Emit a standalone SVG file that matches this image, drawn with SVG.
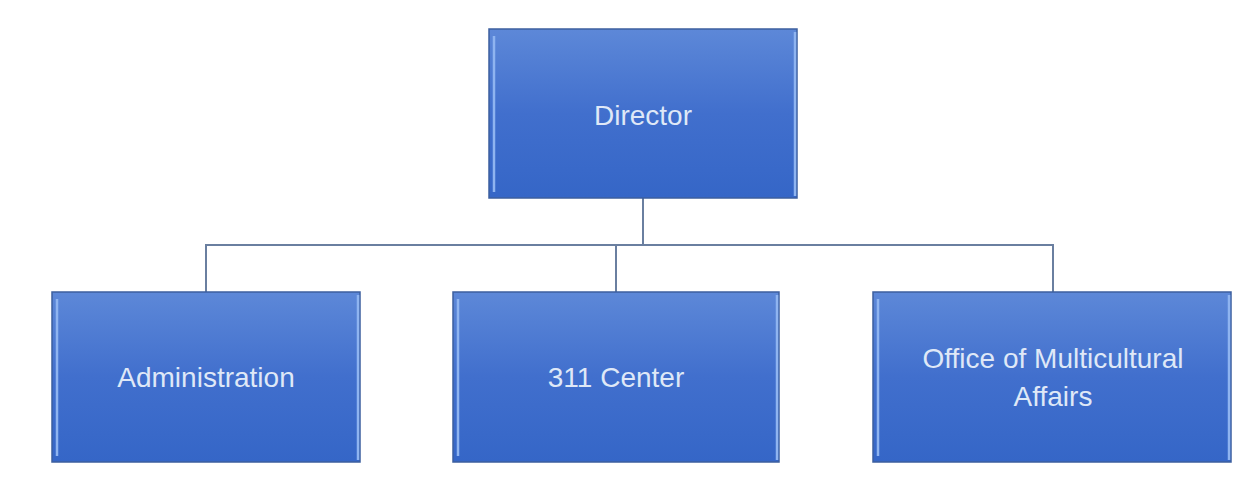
<svg xmlns="http://www.w3.org/2000/svg" width="1235" height="491" viewBox="0 0 1235 491">
<defs>
<linearGradient id="g" x1="0" y1="0" x2="0" y2="1">
<stop offset="0" stop-color="#5d88d8"/>
<stop offset="0.5" stop-color="#416fcd"/>
<stop offset="1" stop-color="#3566c7"/>
</linearGradient>
<style>
.box{fill:url(#g);stroke:#3c5f9f;stroke-width:1.5}
.hl{stroke:#8fb4f0;stroke-width:2.5}
.t{font-family:"Liberation Sans",Arial,sans-serif;font-size:28px;fill:#dfe8f7;text-anchor:middle}
.c{fill:none;stroke:#6a7fa0;stroke-width:2}
</style>
</defs>
<rect width="1235" height="491" fill="#ffffff"/>
<g id="connectors">
<path class="c" d="M643 198 V245"/>
<path class="c" d="M206 292 V245 H1053 V292"/>
<path class="c" d="M616 245 V292"/>
</g>
<g id="director">
<rect class="box" x="489" y="29" width="308" height="169"/>
<line class="hl" x1="494" y1="36" x2="494" y2="192"/>
<line class="hl" x1="795" y1="32" x2="795" y2="196"/>
<text class="t" x="643" y="125">Director</text>
</g>
<g id="administration">
<rect class="box" x="52" y="292" width="308" height="170"/>
<line class="hl" x1="57" y1="299" x2="57" y2="456"/>
<line class="hl" x1="358" y1="295" x2="358" y2="460"/>
<text class="t" x="206" y="387">Administration</text>
</g>
<g id="center311">
<rect class="box" x="453" y="292" width="326" height="170"/>
<line class="hl" x1="458" y1="299" x2="458" y2="456"/>
<line class="hl" x1="777" y1="295" x2="777" y2="460"/>
<text class="t" x="616" y="387">311 Center</text>
</g>
<g id="multicultural">
<rect class="box" x="873" y="292" width="358" height="170"/>
<line class="hl" x1="878" y1="299" x2="878" y2="456"/>
<line class="hl" x1="1229" y1="295" x2="1229" y2="460"/>
<text class="t" x="1053" y="368">Office of Multicultural</text>
<text class="t" x="1053" y="406">Affairs</text>
</g>
</svg>
